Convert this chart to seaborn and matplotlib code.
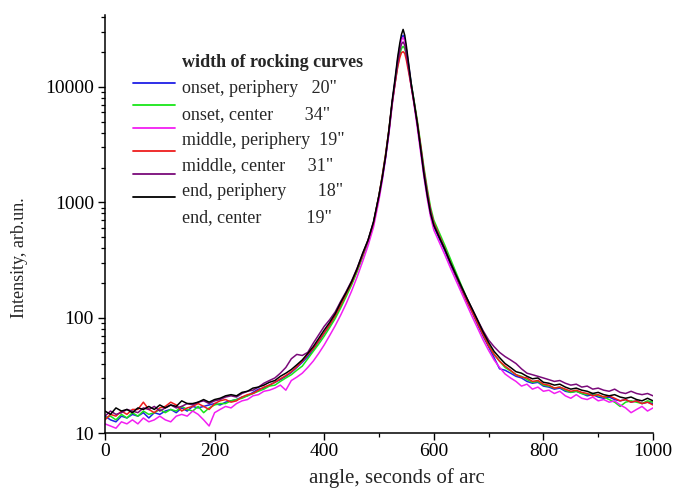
import numpy as np
import pandas as pd
import matplotlib
matplotlib.use("Agg")
import matplotlib.pyplot as plt
from matplotlib.lines import Line2D
from matplotlib.ticker import LogLocator, NullFormatter, FixedLocator
import seaborn as sns

# ---------------- data ----------------
angle = [0, 10, 20, 30, 40, 50, 60, 70, 80, 90, 100, 110, 120, 130, 140, 150, 160, 170, 180, 190,
         200, 210, 220, 230, 240, 250, 260, 270, 280, 290, 300, 310, 320, 330, 340, 350, 360, 370, 380, 390,
         400, 410, 420, 430, 440, 450, 460, 470, 480, 490,
         500, 506, 512, 518, 524, 529, 534, 538, 541, 544, 547, 550, 554, 559, 564, 570, 576, 582, 588, 594,
         600, 610, 620, 630, 640, 650, 660, 670, 680, 690, 700, 710, 720, 730, 740, 750, 760, 770, 780, 790,
         800, 810, 820, 830, 840, 850, 860, 870, 880, 890, 900, 910, 920, 930, 940, 950, 960, 970, 980, 990, 1000]

onset_periphery = [14, 13, 12.5, 14, 13.5, 14.5, 14, 15, 13.5, 15, 14.5, 15.5, 16, 15, 16.5, 15.5, 17, 16.5, 17, 17.5,
                   18, 17.5, 18.5, 19, 19.5, 20.5, 21, 22.5, 24, 24.5, 26, 27.5, 29, 31, 33.5, 37, 41, 46, 53, 62,
                   73, 86, 103, 127, 158, 198, 255, 340, 455, 650,
                   1100, 1600, 2450, 4000, 7200, 11000, 17000, 22500, 26500, 28000, 26000, 21000, 15500, 10500, 7500, 4800, 2900, 1750, 1150, 800,
                   620, 485, 380, 292, 228, 178, 139, 111, 87, 69, 56, 45, 36, 35, 33, 31, 30, 28, 27, 27.5,
                   25.5, 25, 24, 24.5, 23, 22.5, 23, 22, 21, 21.5, 20.5, 20, 20.5, 19.5, 19, 19.5, 18.5, 19, 18, 18.5, 18]

onset_center = [13.5, 14, 13, 14.5, 13.5, 15, 14, 15.5, 14.5, 15, 16, 15, 16, 15.5, 17, 16, 15.5, 17, 15, 16.5,
                17.5, 18, 18, 19, 19.5, 20, 21, 22, 23, 24, 25.5, 26, 28, 30, 32, 35, 38, 44, 51, 59,
                69, 82, 98, 121, 152, 192, 250, 335, 460, 660,
                1150, 1700, 2600, 4200, 7200, 10500, 15000, 19000, 21500, 22500, 21500, 18500, 14500, 10500, 7600, 5100, 3200, 2000, 1320, 910,
                700, 545, 425, 326, 250, 192, 149, 116, 91, 72, 58, 48, 42, 37, 34.5, 32, 31, 29, 27.5, 28,
                26, 25.5, 24.5, 25, 23.5, 22.5, 23, 22, 21.5, 22, 21, 20.5, 19.5, 18.5, 17, 18.5, 19, 18.5, 18, 19, 18.5]

middle_periphery = [12, 11.5, 11, 12.5, 12, 13, 12, 13.5, 12.5, 13, 14, 13, 12.5, 14, 14.5, 14, 15.5, 14.5, 13, 11.5,
                    15, 16, 17, 16.5, 18, 19, 19.5, 21, 21.5, 23, 23.5, 24.5, 26, 23.5, 28.5, 30.5, 33, 37, 42, 49,
                    58, 70, 85, 105, 132, 170, 225, 305, 420, 610,
                    1050, 1550, 2400, 3900, 6900, 10500, 16500, 22000, 25500, 26800, 25000, 20500, 15000, 10000, 7000, 4400, 2700, 1650, 1080, 750,
                    575, 450, 352, 272, 212, 166, 130, 102, 81, 64, 52, 43, 37, 32.5, 30, 28, 25.5, 26.5, 24, 25,
                    23, 23.5, 22, 23, 21, 20, 21.5, 20, 19.5, 20.5, 19, 19.5, 18.5, 19, 17.5, 16.5, 15, 16, 17, 15.5, 16.5]

middle_center = [13, 14.5, 14, 15.5, 14.5, 16, 16, 18.5, 16, 15, 16.5, 17, 18.5, 17.5, 15.5, 16.5, 17, 18, 17, 16,
                 18, 19, 19.5, 18.5, 19, 20.5, 21.5, 22, 23.5, 25, 26, 27.5, 29.5, 31.5, 34, 37.5, 42, 48, 54, 63,
                 74, 87, 104, 128, 160, 200, 260, 345, 465, 660,
                 1150, 1700, 2600, 4200, 7300, 10500, 14800, 18000, 19800, 20200, 19500, 17000, 13500, 10000, 7300, 4900, 3100, 1900, 1250, 860,
                 665, 515, 398, 303, 233, 181, 141, 112, 89, 71, 57, 48, 42, 38, 35, 32, 30.5, 30, 28, 28.5,
                 26.5, 26, 24.5, 25, 24, 23, 23.5, 22.5, 22, 21, 21.5, 20.5, 21, 20, 19, 19.5, 18.5, 19, 18, 18.5, 17.5]

end_periphery = [14, 15.5, 14.5, 15, 16, 15.5, 15, 16.5, 16, 17, 15.5, 16.5, 17.5, 16.5, 17, 18, 17.5, 18.5, 19, 18,
                 19, 19.5, 20.5, 21, 20.5, 22, 23, 23.5, 25, 27, 28.5, 30, 33, 37, 44, 48, 47, 50, 60, 71,
                 84, 96, 112, 138, 168, 208, 268, 355, 470, 670,
                 1150, 1650, 2500, 4100, 7300, 10800, 16000, 20500, 23500, 24500, 23000, 19000, 14500, 10000, 7200, 4700, 3000, 1850, 1200, 840,
                 645, 502, 393, 299, 234, 184, 147, 119, 95, 77, 64, 56, 50, 46, 43, 40, 36, 33, 32, 31,
                 30, 29, 28, 28.5, 27, 26, 26.5, 25, 25.5, 24, 24.5, 23.5, 23, 24, 22.5, 22, 23, 22, 21.5, 22, 21]

end_center = [15.5, 14.5, 16.5, 15.5, 16, 15, 16.5, 16, 17, 16, 17.5, 16.5, 17.5, 17, 19, 18, 18, 18.5, 19.5, 18.5,
              19.5, 20, 21, 21.5, 21, 22.5, 23, 24.5, 25, 26, 27.5, 28.5, 31, 33, 35.5, 39, 43, 49, 56, 66,
              78, 91, 108, 135, 165, 205, 265, 360, 470, 680,
              1150, 1650, 2500, 4200, 7600, 11500, 18000, 24000, 28500, 31500, 28000, 22500, 16000, 10500, 7400, 4800, 2900, 1750, 1150, 800,
              630, 495, 392, 303, 238, 188, 149, 119, 95, 75, 61, 51, 45, 40, 37, 34, 33, 31, 29.5, 30,
              27.5, 27, 26, 26.5, 25, 24, 24.5, 23.5, 23, 22, 22.5, 21.5, 21, 21.5, 20.5, 20, 20.5, 19.5, 19, 20, 19]

series_names = ["onset, periphery", "onset, center", "middle, periphery",
                "middle, center", "end, periphery", "end, center"]
series_values = [onset_periphery, onset_center, middle_periphery,
                 middle_center, end_periphery, end_center]
series_colors = ["#1f1fe6", "#19e619", "#f21ff2", "#ee1c1c", "#7a0a7a", "#000000"]

legend_title = "width of rocking curves"
legend_labels = ['onset, periphery   20"', 'onset, center       34"', 'middle, periphery  19"',
                 'middle, center     31"', 'end, periphery       18"', 'end, center          19"']

x_ticks = [0, 200, 400, 600, 800, 1000]
y_ticks = [10, 100, 1000, 10000]

# ---------------- figure ----------------
sns.set_style("ticks")
plt.rcParams["font.family"] = ["Liberation Serif", "DejaVu Serif"]

frames = []
for name, vals in zip(series_names, series_values):
    frames.append(pd.DataFrame({"angle": angle, "intensity": vals, "sample": name}))
df = pd.concat(frames, ignore_index=True)

fig = plt.figure(figsize=(6.74, 4.91), dpi=100)
ax = fig.add_axes([105 / 674, 1 - 433 / 491, 548 / 674, 418 / 491])

sns.lineplot(data=df, x="angle", y="intensity", hue="sample",
             hue_order=series_names, palette=series_colors,
             linewidth=1.1, ax=ax, legend=False, sort=False, estimator=None)

ax.set_yscale("log")
ax.set_xlim(0, 1000)
ax.set_ylim(10, 42000)

ax.xaxis.set_major_locator(FixedLocator(x_ticks))
ax.xaxis.set_minor_locator(FixedLocator([100, 300, 500, 700, 900]))
ax.yaxis.set_major_locator(FixedLocator(y_ticks))
ax.set_yticklabels([str(v) for v in y_ticks])
ax.yaxis.set_minor_locator(LogLocator(base=10, subs=np.arange(2, 10)))
ax.yaxis.set_minor_formatter(NullFormatter())

ax.tick_params(axis="both", which="major", direction="out", length=5, width=1.0,
               labelsize=14, color="black", labelcolor="black", pad=2)
ax.tick_params(axis="both", which="minor", direction="out", length=3, width=0.9, color="black")
ax.tick_params(axis="y", which="major", pad=3)

for side in ["top", "right"]:
    ax.spines[side].set_visible(False)
for side in ["left", "bottom"]:
    ax.spines[side].set_linewidth(1.1)
    ax.spines[side].set_color("black")

ax.set_xlabel("angle, seconds of arc", fontsize=15)
ax.set_ylabel("Intensity, arb.un.", fontsize=13)
ax.xaxis.set_label_coords(0.533, -0.084)
ax.yaxis.set_label_coords(-0.14, 0.42)

# text part of the legend (title row + six labels)
text_handles = [Line2D([], [], color="none") for _ in range(7)]
text_labels = [legend_title] + legend_labels
leg_text = ax.legend(text_handles, text_labels, loc="upper left",
                     bbox_to_anchor=(133 / 674, 1 - 54 / 491), bbox_transform=fig.transFigure,
                     frameon=False, fontsize=13, handlelength=2.3, handletextpad=0.4,
                     labelspacing=0.49, borderpad=0, borderaxespad=0)
leg_text.get_texts()[0].set_fontweight("bold")
ax.add_artist(leg_text)

# line samples of the legend (slightly tighter spacing, as in the original)
line_handles = [Line2D([], [], color=c, linewidth=1.3) for c in series_colors]
leg_lines = ax.legend(line_handles, [" "] * 6, loc="upper left",
                      bbox_to_anchor=(133 / 674, 1 - 76 / 491), bbox_transform=fig.transFigure,
                      frameon=False, fontsize=13, handlelength=2.3, handletextpad=0.4,
                      labelspacing=0.32, borderpad=0, borderaxespad=0)

fig.savefig("out.png", dpi=100)
